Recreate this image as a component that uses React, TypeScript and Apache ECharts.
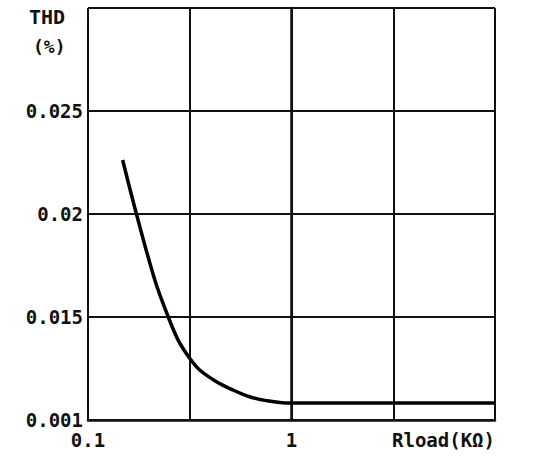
import React, { useEffect, useRef } from "react";
import * as echarts from "echarts";

// Load resistance (kΩ) and THD (%)
const rload = [0.148, 0.173, 0.213, 0.248, 0.2773, 0.316, 0.354, 0.428, 0.515, 0.622, 0.751, 0.977, 1.3, 2, 4, 10];
const thd = [0.02262, 0.0200, 0.0168, 0.0150, 0.01388, 0.0130, 0.01243, 0.01186, 0.01146, 0.01113, 0.01094, 0.01082, 0.01082, 0.01082, 0.01082, 0.01082];

// Tick labels
const xTickValues = [-1, 0];
const xTickLabels = ["0.1", "1"];
const yTickValues = [0.01, 0.015, 0.02, 0.025];
const yTickLabels = ["0.001", "0.015", "0.02", "0.025"];

const FONT = "DejaVu Sans Mono";

export default function App() {
  const ref = useRef<HTMLDivElement>(null);
  useEffect(() => {
    if (!ref.current) return;
    const chart = echarts.init(ref.current, null, { renderer: "svg" });
    const data = rload.map((r, i) => [Math.log10(r), thd[i]]);
    chart.setOption({
      animation: false,
      backgroundColor: "#ffffff",
      grid: { left: 88, right: 47, top: 8, bottom: 40, containLabel: false },
      xAxis: {
        type: "value",
        min: -1,
        max: 1,
        interval: 0.5,
        axisLine: { show: true, lineStyle: { color: "#111", width: 2.5 } },
        axisTick: { show: false },
        splitLine: { show: true, lineStyle: { color: "#111", width: 2 } },
        axisLabel: {
          margin: 10,
          color: "#111",
          fontFamily: FONT,
          fontWeight: "bold",
          fontSize: 19,
          showMaxLabel: true,
          formatter: (v: number) => {
            const i = xTickValues.findIndex((t) => Math.abs(t - v) < 1e-9);
            return i >= 0 ? xTickLabels[i] : "";
          },
        },
      },
      yAxis: {
        type: "value",
        min: 0.01,
        max: 0.03,
        interval: 0.005,
        axisLine: { show: true, lineStyle: { color: "#111", width: 2.5 } },
        axisTick: { show: true, length: 4, lineStyle: { color: "#111", width: 2 } },
        splitLine: { show: true, lineStyle: { color: "#111", width: 2 } },
        axisLabel: {
          margin: 5,
          color: "#111",
          fontFamily: FONT,
          fontWeight: "bold",
          fontSize: 19,
          formatter: (v: number) => {
            const i = yTickValues.findIndex((t) => Math.abs(t - v) < 1e-9);
            return i >= 0 ? yTickLabels[i] : "";
          },
        },
      },
      graphic: [
        {
          type: "text",
          left: 29,
          top: 7,
          style: { text: "THD", fill: "#111", font: `bold 20px "${FONT}"` },
        },
        {
          type: "text",
          left: 33,
          top: 37,
          style: { text: "(%)", fill: "#111", font: `bold 18px "${FONT}"` },
        },
        {
          type: "text",
          left: 392,
          top: 430,
          style: { text: "Rload(KΩ)", fill: "#111", font: `bold 19px "${FONT}"` },
        },
      ],
      series: [
        {
          type: "line",
          data,
          smooth: 0.35,
          showSymbol: false,
          lineStyle: { color: "#000", width: 3.5 },
        },
      ],
    });
    return () => chart.dispose();
  }, []);
  return (
    <div
      ref={ref}
      style={{ position: "absolute", left: 0, top: 0, width: 542, height: 460 }}
    />
  );
}
